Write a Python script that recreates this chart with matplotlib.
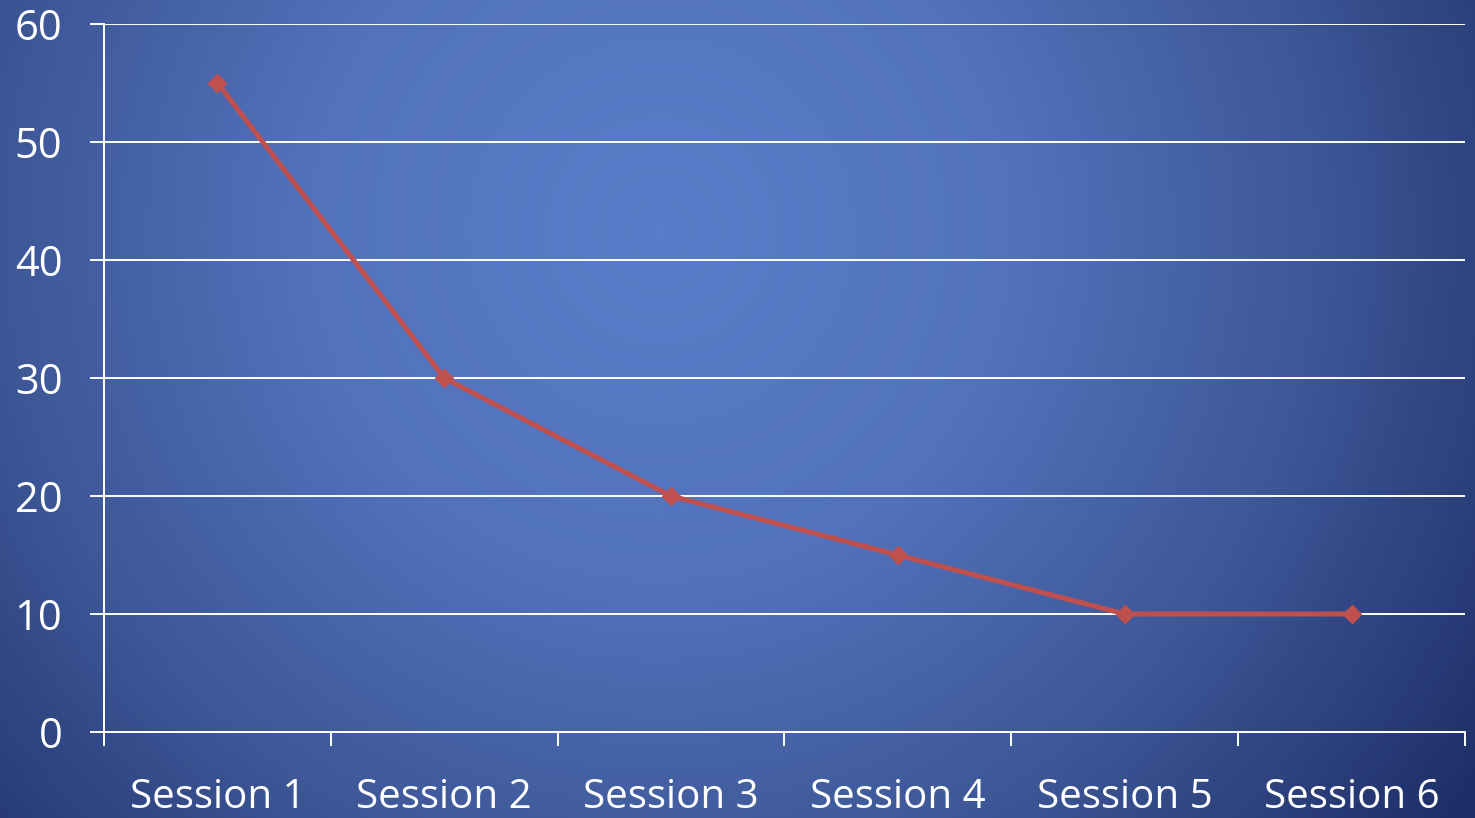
import numpy as np
import matplotlib
matplotlib.use("Agg")
import matplotlib.pyplot as plt
from matplotlib.colors import LinearSegmentedColormap

# data
sessions = ["Session 1", "Session 2", "Session 3", "Session 4", "Session 5", "Session 6"]
values = [55, 30, 20, 15, 10, 10]
y_ticks = [0, 10, 20, 30, 40, 50, 60]

plt.rcParams["font.family"] = ["Open Sans", "DejaVu Sans"]

W, H = 1475, 818
fig = plt.figure(figsize=(W / 100, H / 100), dpi=100)

# radial gradient background
bg = fig.add_axes([0, 0, 1, 1], zorder=0)
yy, xx = np.mgrid[0:H, 0:W]
d = np.hypot(xx - 660, yy - 230) / 1000.0
cmap = LinearSegmentedColormap.from_list(
    "bg", [(0, "#5b7dc9"), (0.35, "#5272bc"), (0.65, "#3e5898"), (1, "#1d2d66")])
bg.imshow(np.clip(d, 0, 1), cmap=cmap, vmin=0, vmax=1, aspect="auto",
          interpolation="bilinear")
bg.axis("off")

ax = fig.add_axes([104 / W, 1 - 732 / H, (1465 - 104) / W, (732 - 24) / H], zorder=1)
ax.patch.set_alpha(0)

x = np.arange(len(sessions))
ax.plot(x, values, color="#c0504d", lw=3.6, marker="D", markersize=9,
        zorder=3, clip_on=False)

ax.set_xlim(-0.5, len(sessions) - 0.5)
ax.set_ylim(0, 60)
ax.set_yticks(y_ticks)
ax.set_yticklabels([str(v) for v in y_ticks])
ax.set_xticks(np.arange(len(sessions) + 1) - 0.5, minor=False)
ax.set_xticklabels([""] * (len(sessions) + 1))
ax.set_xticks(x, minor=True)
ax.set_xticklabels(sessions, minor=True)

ax.grid(axis="y", color="white", lw=1.4)
for s in ["top", "right"]:
    ax.spines[s].set_visible(False)
for s in ["left", "bottom"]:
    ax.spines[s].set_color("white")
    ax.spines[s].set_linewidth(1.4)

ax.tick_params(axis="y", which="major", colors="white", labelsize=30,
               length=10, width=1.4, pad=20)
ax.tick_params(axis="x", which="major", colors="white", length=10, width=1.4)
ax.tick_params(axis="x", which="minor", colors="white", labelsize=29,
               length=0, pad=33)

fig.savefig("out.png", dpi=100)
